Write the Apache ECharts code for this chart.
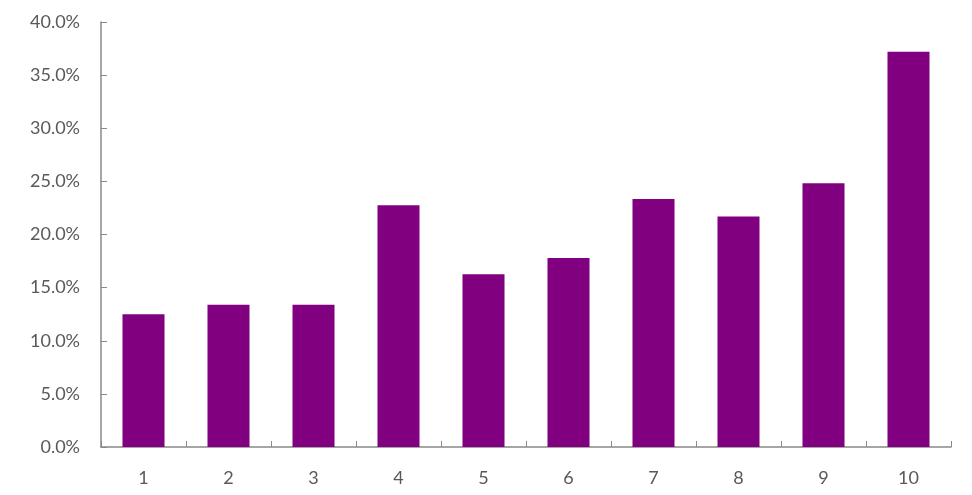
<!DOCTYPE html>
<html>
<head>
<meta charset="utf-8">
<script src="https://cdn.jsdelivr.net/npm/echarts@6/dist/echarts.min.js"></script>
<style>
  html, body { margin: 0; padding: 0; background: #fff; }
  #chart { width: 972px; height: 495px; }
</style>
</head>
<body>
<div id="chart"></div>
<script>
// 分组
const categories = ['1', '2', '3', '4', '5', '6', '7', '8', '9', '10']
// 各组占比（%）
const values = [12.5, 13.4, 13.4, 22.76, 16.27, 17.78, 23.33, 21.69, 24.83, 37.19]
// y 轴刻度
const yMin = 0
const yMax = 40
const yStep = 5

const axisColor = '#898989'
const labelColor = '#595959'
const fontFamily = 'Lato, "Open Sans", sans-serif'

const myChart = echarts.init(document.getElementById('chart'))

const option = {
  animation: false,
  grid: {
    left: 101,
    right: 21,
    top: 22,
    bottom: 48
  },
  xAxis: {
    type: 'category',
    data: categories,
    axisLine: { lineStyle: { color: axisColor, width: 1.5 } },
    axisTick: {
      show: true,
      inside: true,
      length: 6,
      lineStyle: { color: axisColor }
    },
    axisLabel: {
      color: labelColor,
      fontSize: 18,
      fontFamily: fontFamily,
      margin: 22
    }
  },
  yAxis: {
    type: 'value',
    min: yMin,
    max: yMax,
    interval: yStep,
    splitLine: { show: false },
    axisLine: { show: true, lineStyle: { color: axisColor, width: 1.5 } },
    axisTick: {
      show: true,
      inside: true,
      length: 6,
      lineStyle: { color: axisColor }
    },
    axisLabel: {
      color: labelColor,
      fontSize: 18,
      fontFamily: fontFamily,
      margin: 21,
      formatter: (v) => v.toFixed(1) + '%'
    }
  },
  series: [
    {
      type: 'bar',
      data: values,
      barWidth: 42,
      itemStyle: { color: '#800080' }
    }
  ]
}

myChart.setOption(option)
</script>
</body>
</html>
